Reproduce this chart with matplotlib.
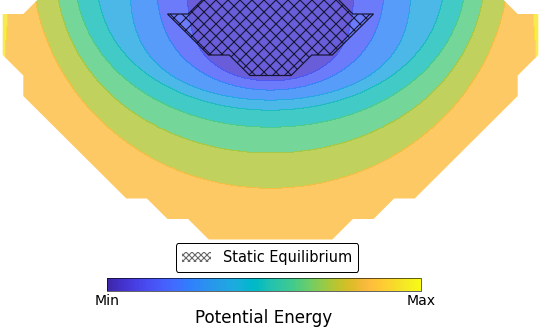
import numpy as np
import matplotlib
matplotlib.use("Agg")
import matplotlib.pyplot as plt
from matplotlib.colors import LinearSegmentedColormap, Normalize
from matplotlib.patches import Polygon, Patch
from matplotlib.cm import ScalarMappable

# ---------------- data (grid units, v grows downward) ----------------
# contour boundaries between the 9 equal energy bands (levels k/9, k=1..8)
bound_halfwidth = [4.05, 5.57, 6.84, 8.50, 9.55, 10.46, 11.59, 12.85]
bound_depth = [5.90, 6.34, 6.83, 7.32, 8.15, 9.41, 11.12, 16.0]
bound_center_v = [-2.63, -2.63, -2.63, -2.63, -2.63, -2.63, -2.63, 1.8]
bound_shape = [4.0, 3.0, 3.5, 2.5, 2.3, 2.2, 2.0, 2.0]
n_bands = 9

# admissible domain outline (u, v)
domain_u = [-11, -12, -13, -13, -12, -12, -7, -6, -5, -4, -3, 3, 4, 5, 6, 7, 12, 12, 13, 13, 12, 11]
domain_v = [-1, 0, 0, 2, 3, 4, 9, 9, 10, 10, 11, 11, 10, 10, 9, 9, 4, 3, 2, 0, 0, -1]

# static equilibrium region outline (u, v)
equil_u = [-3, -4, -5, -3, -2, -1, 1, 2, 3, 5, 4, 3]
equil_v = [-1, 0, 0, 2, 2, 3, 3, 2, 2, 0, 0, -1]

legend_label = "Static Equilibrium"
cbar_ticklabels = ["Min", "Max"]
cbar_label = "Potential Energy"

# ---------------- colormap (parula) ----------------
parula_rgb = [
    (0.2422, 0.1504, 0.6603), (0.2504, 0.1650, 0.7076), (0.2578, 0.1818, 0.7511),
    (0.2647, 0.1978, 0.7952), (0.2706, 0.2147, 0.8364), (0.2751, 0.2342, 0.8710),
    (0.2783, 0.2559, 0.8991), (0.2803, 0.2782, 0.9221), (0.2813, 0.3006, 0.9414),
    (0.2810, 0.3228, 0.9579), (0.2795, 0.3447, 0.9717), (0.2760, 0.3667, 0.9829),
    (0.2699, 0.3892, 0.9906), (0.2602, 0.4123, 0.9952), (0.2440, 0.4358, 0.9988),
    (0.2206, 0.4603, 0.9973), (0.1963, 0.4847, 0.9892), (0.1834, 0.5074, 0.9798),
    (0.1786, 0.5289, 0.9682), (0.1764, 0.5499, 0.9520), (0.1687, 0.5703, 0.9359),
    (0.1540, 0.5902, 0.9218), (0.1460, 0.6091, 0.9079), (0.1380, 0.6276, 0.8973),
    (0.1248, 0.6459, 0.8883), (0.1113, 0.6635, 0.8763), (0.0952, 0.6798, 0.8598),
    (0.0689, 0.6948, 0.8394), (0.0297, 0.7082, 0.8163), (0.0036, 0.7203, 0.7917),
    (0.0067, 0.7312, 0.7660), (0.0433, 0.7411, 0.7394), (0.0964, 0.7500, 0.7120),
    (0.1408, 0.7584, 0.6842), (0.1717, 0.7670, 0.6554), (0.1938, 0.7758, 0.6251),
    (0.2161, 0.7843, 0.5923), (0.2470, 0.7918, 0.5567), (0.2906, 0.7973, 0.5188),
    (0.3406, 0.8008, 0.4789), (0.3909, 0.8029, 0.4354), (0.4456, 0.8024, 0.3909),
    (0.5044, 0.7993, 0.3480), (0.5616, 0.7942, 0.3045), (0.6174, 0.7876, 0.2612),
    (0.6720, 0.7793, 0.2227), (0.7242, 0.7698, 0.1910), (0.7738, 0.7598, 0.1646),
    (0.8203, 0.7498, 0.1535), (0.8634, 0.7406, 0.1596), (0.9035, 0.7330, 0.1774),
    (0.9393, 0.7288, 0.2100), (0.9728, 0.7298, 0.2394), (0.9956, 0.7434, 0.2371),
    (0.9970, 0.7659, 0.2199), (0.9952, 0.7893, 0.2028), (0.9892, 0.8136, 0.1885),
    (0.9786, 0.8386, 0.1766), (0.9676, 0.8639, 0.1643), (0.9610, 0.8890, 0.1537),
    (0.9597, 0.9135, 0.1423), (0.9628, 0.9373, 0.1265), (0.9691, 0.9606, 0.1064),
    (0.9769, 0.9839, 0.0805)]
parula = LinearSegmentedColormap.from_list("parula", parula_rgb, N=256)

# ---------------- energy field built from the boundary table ----------------
U, V = np.meshgrid(np.linspace(-13.6, 13.6, 900), np.linspace(-1.6, 11.5, 450))
S = np.stack([(np.abs(U) / a) ** 2 + (np.abs(V - vc) / b) ** q
              for a, b, vc, q in zip(bound_halfwidth, bound_depth, bound_center_v, bound_shape)])
with np.errstate(divide="ignore", invalid="ignore"):
    L = np.log(S)
    nb = len(bound_halfwidth)
    c = (L > 0).sum(axis=0)
    Lc = np.take_along_axis(L, np.clip(c - 1, 0, nb - 1)[None], 0)[0]
    Ln = np.take_along_axis(L, np.clip(c, 0, nb - 1)[None], 0)[0]
    frac = np.clip(Lc / (Lc - Ln), 0, 0.999)
    Z = (c + frac) / n_bands
    Z = np.where(c == 0, np.clip(S[0], 0, 0.999) / n_bands, Z)
    Z = np.where(c >= nb, (nb + 0.5) / n_bands, Z)

# ---------------- figure ----------------
W, H = 540, 328
plt.rcParams["font.family"] = ["DejaVu Sans"]
plt.rcParams["hatch.linewidth"] = 1.1
fig = plt.figure(figsize=(W / 72, H / 72), dpi=72)

x0, cell_x, y0, cell_y = 270.5, 20.6, 14.0, 20.5
ax = fig.add_axes([0, 1 - 242 / H, 1, 242 / H])
ax.set_xlim((0 - x0) / cell_x, (W - x0) / cell_x)
ax.set_ylim((242 - y0) / cell_y, (0 - y0) / cell_y)
ax.axis("off")

levels = np.linspace(0, 1, n_bands + 1)
cs = ax.contourf(U, V, Z, levels=levels, cmap=parula, alpha=0.8)
domain = Polygon(np.column_stack([domain_u, domain_v]), closed=True,
                 facecolor="none", edgecolor="none", transform=ax.transData)
ax.add_patch(domain)
cs.set_clip_path(domain)

equil = Polygon(np.column_stack([equil_u, equil_v]), closed=True, fill=False,
                hatch="xx", edgecolor="#161634", linewidth=1.2, zorder=3)
ax.add_patch(equil)

handle = Patch(facecolor="white", edgecolor="0.4", hatch="xxxx", linewidth=0,
               label=legend_label)
fig.legend(handles=[handle], loc="center", bbox_to_anchor=(267 / W, 1 - 257.5 / H),
           fontsize=14.5, frameon=True, edgecolor="black", framealpha=1,
           fancybox=True, borderpad=0.45, handlelength=2.0, handletextpad=0.8)

cax = fig.add_axes([107 / W, (H - 291) / H, 314 / W, 13 / H])
sm = ScalarMappable(norm=Normalize(0, 1), cmap=parula)
cbar = fig.colorbar(sm, cax=cax, orientation="horizontal", ticks=[0, 1])
cbar.ax.set_xticklabels(cbar_ticklabels, fontsize=14)
cbar.ax.tick_params(length=0, pad=3)
cbar.outline.set_linewidth(0.6)
cbar.set_label(cbar_label, fontsize=16.8, labelpad=1)

fig.savefig("out.png", dpi=72, facecolor="white")
